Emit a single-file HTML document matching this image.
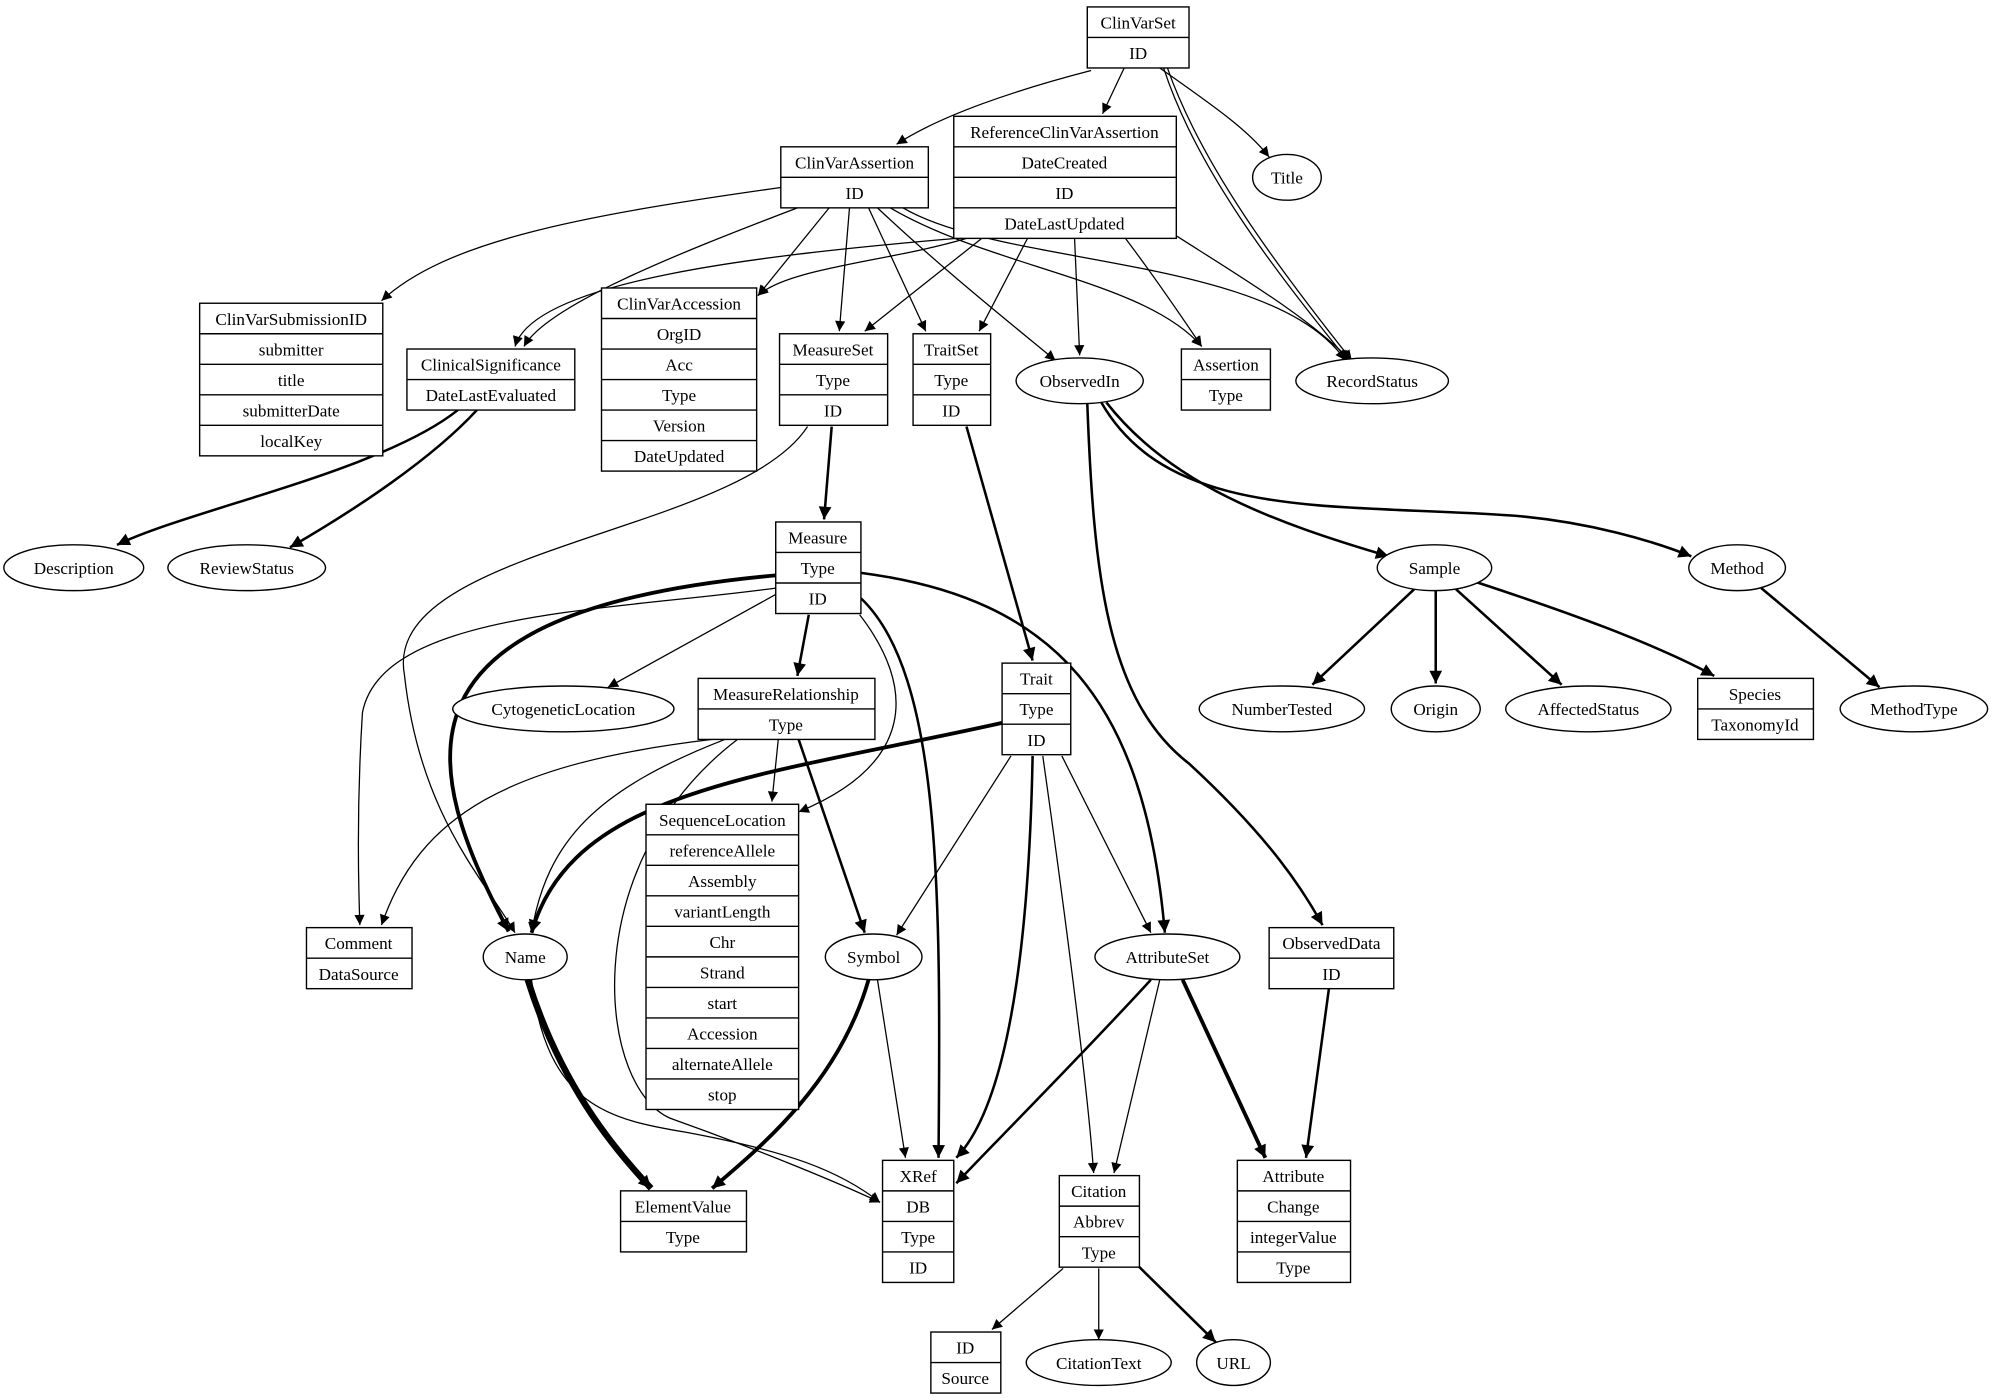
<!DOCTYPE html>
<html><head><meta charset="utf-8"><style>
html,body{margin:0;padding:0;background:#fff;}
svg{display:block;}
text{font-family:"Liberation Serif",serif;font-size:13.5px;text-anchor:middle;fill:#000;}
.r{fill:none;stroke:#000;stroke-width:1.1;}
.e{fill:none;stroke:#000;stroke-width:1;}
.t{stroke-width:2;}
.tt{stroke-width:3;}
.t4{stroke-width:5;}
</style></head><body>
<svg width="1994" height="1400" viewBox="0 0 1568 1100" xmlns="http://www.w3.org/2000/svg">
<defs>
<marker id="a" viewBox="0 0 10 10" refX="10" refY="5" markerWidth="10" markerHeight="8" markerUnits="userSpaceOnUse" orient="auto"><path d="M0,0L10,5L0,10z" fill="#000"/></marker>
<marker id="b" viewBox="0 0 10 10" refX="10" refY="5" markerWidth="12" markerHeight="10" markerUnits="userSpaceOnUse" orient="auto"><path d="M0,0L10,5L0,10z" fill="#000"/></marker>
</defs>
<g class="e" marker-end="url(#a)">
<path d="M858,55 C800,70 740,90 705,113"/>
<path d="M884,53 L867,89"/>
<path d="M912,53 C950,80 980,100 998,123"/>
<path d="M915,53 C940,130 1000,210 1060,283"/>
<path d="M918,53 C945,130 1005,210 1063,283"/>
<path d="M614,147 C450,170 350,190 300,236"/>
<path d="M627,163 C530,200 430,240 412,272"/>
<path d="M652,163 L596,232"/>
<path d="M668,163 L660,260"/>
<path d="M683,163 L728,260"/>
<path d="M690,163 C740,210 790,250 830,283"/>
<path d="M700,163 C780,210 900,220 945,272"/>
<path d="M710,163 C790,210 1000,200 1058,283"/>
<path d="M752,187 C600,200 420,220 405,272"/>
<path d="M760,187 C700,205 620,210 596,232"/>
<path d="M772,187 L680,260"/>
<path d="M808,187 L770,260"/>
<path d="M845,187 L849,279"/>
<path d="M885,187 C910,220 930,250 945,272"/>
<path d="M925,185 C980,220 1030,250 1062,283"/>
<path d="M635,335 C580,420 300,430 318,530 C330,640 380,690 405,733"/>
<path d="M610,467 L478,540"/>
<path d="M610,462 C480,480 300,480 285,560 C280,640 282,700 283,727"/>
<path d="M676,483 C720,540 720,600 628,638"/>
<path d="M560,581 C400,600 330,640 300,727"/>
<path d="M570,581 C470,620 430,660 418,733"/>
<path d="M612,581 L607,630"/>
<path d="M580,581 C450,680 470,860 530,880 C600,905 660,930 692,945"/>
<path d="M795,594 L705,735"/>
<path d="M820,594 C835,700 855,850 860,922"/>
<path d="M835,594 L905,733"/>
<path d="M418,770 C430,870 480,880 540,890 C620,905 660,920 692,945"/>
<path d="M690,770 L712,910"/>
<path d="M912,770 L876,922"/>
<path d="M836,997 L780,1045"/>
<path d="M864,997 L864,1053"/>
</g>
<g class="e t" marker-end="url(#b)">
<path d="M360,322 C300,370 150,400 92,428"/>
<path d="M375,322 C340,360 280,400 228,430"/>
<path d="M654,335 L648,408"/>
<path d="M760,335 L812,519"/>
<path d="M870,316 C920,380 1000,410 1092,437"/>
<path d="M866,316 C920,410 1050,395 1190,405 C1250,410 1300,425 1330,437"/>
<path d="M855,317 C860,450 870,550 935,600 C1000,660 1025,700 1040,727"/>
<path d="M1112,463 L1032,538"/>
<path d="M1129,464 L1129,537"/>
<path d="M1145,463 L1228,538"/>
<path d="M1160,457 C1230,480 1300,505 1348,531"/>
<path d="M1385,462 L1478,540"/>
<path d="M636,483 L627,531"/>
<path d="M677,470 C740,530 740,700 738,910"/>
<path d="M677,450 C830,470 900,550 916,733"/>
<path d="M628,581 L680,733"/>
<path d="M812,594 C810,700 800,860 752,910"/>
<path d="M905,770 C850,830 790,890 752,930"/>
<path d="M1045,777 L1027,910"/>
<path d="M895,995 L956,1055"/>
</g>
<g class="e tt" marker-end="url(#b)">
<path d="M610,452 C300,480 330,600 400,732"/>
<path d="M788,568 C600,610 450,620 418,733"/>
<path d="M683,770 C660,850 600,900 560,934"/>
<path d="M930,770 L995,910"/>
</g>
<path class="e t4" d="M415,770 C440,850 480,900 512,934" marker-end="url(#b)"/>
<g fill="#fff" stroke="#000" stroke-width="1.1">
<rect x="855" y="5" width="80" height="48"/>
<rect x="750" y="91" width="175" height="96"/>
<rect x="614" y="115" width="116" height="48"/>
<rect x="157" y="238" width="144" height="120"/>
<rect x="320" y="274" width="132" height="48"/>
<rect x="473" y="226" width="122" height="144"/>
<rect x="613" y="262" width="85" height="72"/>
<rect x="718" y="262" width="61" height="72"/>
<rect x="929" y="274" width="70" height="48"/>
<rect x="610" y="410" width="67" height="72"/>
<rect x="549" y="533" width="139" height="48"/>
<rect x="788" y="521" width="54" height="72"/>
<rect x="1335" y="533" width="91" height="48"/>
<rect x="508" y="632" width="120" height="240"/>
<rect x="241" y="729" width="83" height="48"/>
<rect x="998" y="729" width="98" height="48"/>
<rect x="488" y="936" width="99" height="48"/>
<rect x="694" y="912" width="56" height="96"/>
<rect x="833" y="924" width="63" height="72"/>
<rect x="973" y="912" width="89" height="96"/>
<rect x="732" y="1047" width="55" height="48"/>
<ellipse cx="1012" cy="139" rx="27" ry="18"/>
<ellipse cx="849" cy="299" rx="50" ry="18"/>
<ellipse cx="1079" cy="299" rx="60" ry="18"/>
<ellipse cx="58" cy="446" rx="55" ry="18"/>
<ellipse cx="194" cy="446" rx="62" ry="18"/>
<ellipse cx="1128" cy="446" rx="45" ry="18"/>
<ellipse cx="1366" cy="446" rx="38" ry="18"/>
<ellipse cx="443" cy="557" rx="87" ry="18"/>
<ellipse cx="1008" cy="557" rx="65" ry="18"/>
<ellipse cx="1129" cy="557" rx="35" ry="18"/>
<ellipse cx="1249" cy="557" rx="65" ry="18"/>
<ellipse cx="1505" cy="557" rx="58" ry="18"/>
<ellipse cx="413" cy="752" rx="33" ry="18"/>
<ellipse cx="687" cy="752" rx="38" ry="18"/>
<ellipse cx="918" cy="752" rx="57" ry="18"/>
<ellipse cx="864" cy="1071" rx="57" ry="18"/>
<ellipse cx="970" cy="1071" rx="29" ry="18"/>
</g>
<path class="r" d="M855,29h80 M750,115h175 M750,139h175 M750,163h175 M614,139h116
M157,262h144 M157,286h144 M157,310h144 M157,334h144 M320,298h132
M473,250h122 M473,274h122 M473,298h122 M473,322h122 M473,346h122
M613,286h85 M613,310h85 M718,286h61 M718,310h61 M929,298h70
M610,434h67 M610,458h67 M549,557h139 M788,545h54 M788,569h54 M1335,557h91
M508,656h120 M508,680h120 M508,704h120 M508,728h120 M508,752h120 M508,776h120 M508,800h120 M508,824h120 M508,848h120
M241,753h83 M998,753h98 M488,960h99 M694,936h56 M694,960h56 M694,984h56
M833,948h63 M833,972h63 M973,936h89 M973,960h89 M973,984h89 M732,1071h55"/>
<text x="895" y="22">ClinVarSet</text><text x="895" y="46">ID</text>
<text x="837" y="108">ReferenceClinVarAssertion</text><text x="837" y="132">DateCreated</text><text x="837" y="156">ID</text><text x="837" y="180">DateLastUpdated</text>
<text x="672" y="132">ClinVarAssertion</text><text x="672" y="156">ID</text>
<text x="229" y="255">ClinVarSubmissionID</text><text x="229" y="279">submitter</text><text x="229" y="303">title</text><text x="229" y="327">submitterDate</text><text x="229" y="351">localKey</text>
<text x="386" y="291">ClinicalSignificance</text><text x="386" y="315">DateLastEvaluated</text>
<text x="534" y="243">ClinVarAccession</text><text x="534" y="267">OrgID</text><text x="534" y="291">Acc</text><text x="534" y="315">Type</text><text x="534" y="339">Version</text><text x="534" y="363">DateUpdated</text>
<text x="655" y="279">MeasureSet</text><text x="655" y="303">Type</text><text x="655" y="327">ID</text>
<text x="748" y="279">TraitSet</text><text x="748" y="303">Type</text><text x="748" y="327">ID</text>
<text x="964" y="291">Assertion</text><text x="964" y="315">Type</text>
<text x="643" y="427">Measure</text><text x="643" y="451">Type</text><text x="643" y="475">ID</text>
<text x="618" y="550">MeasureRelationship</text><text x="618" y="574">Type</text>
<text x="815" y="538">Trait</text><text x="815" y="562">Type</text><text x="815" y="586">ID</text>
<text x="1380" y="550">Species</text><text x="1380" y="574">TaxonomyId</text>
<text x="568" y="649">SequenceLocation</text><text x="568" y="673">referenceAllele</text><text x="568" y="697">Assembly</text><text x="568" y="721">variantLength</text><text x="568" y="745">Chr</text><text x="568" y="769">Strand</text><text x="568" y="793">start</text><text x="568" y="817">Accession</text><text x="568" y="841">alternateAllele</text><text x="568" y="865">stop</text>
<text x="282" y="746">Comment</text><text x="282" y="770">DataSource</text>
<text x="1047" y="746">ObservedData</text><text x="1047" y="770">ID</text>
<text x="537" y="953">ElementValue</text><text x="537" y="977">Type</text>
<text x="722" y="929">XRef</text><text x="722" y="953">DB</text><text x="722" y="977">Type</text><text x="722" y="1001">ID</text>
<text x="864" y="941">Citation</text><text x="864" y="965">Abbrev</text><text x="864" y="989">Type</text>
<text x="1017" y="929">Attribute</text><text x="1017" y="953">Change</text><text x="1017" y="977">integerValue</text><text x="1017" y="1001">Type</text>
<text x="759" y="1064">ID</text><text x="759" y="1088">Source</text>
<text x="1012" y="144">Title</text>
<text x="849" y="304">ObservedIn</text>
<text x="1079" y="304">RecordStatus</text>
<text x="58" y="451">Description</text>
<text x="194" y="451">ReviewStatus</text>
<text x="1128" y="451">Sample</text>
<text x="1366" y="451">Method</text>
<text x="443" y="562">CytogeneticLocation</text>
<text x="1008" y="562">NumberTested</text>
<text x="1129" y="562">Origin</text>
<text x="1249" y="562">AffectedStatus</text>
<text x="1505" y="562">MethodType</text>
<text x="413" y="757">Name</text>
<text x="687" y="757">Symbol</text>
<text x="918" y="757">AttributeSet</text>
<text x="864" y="1076">CitationText</text>
<text x="970" y="1076">URL</text>
</svg>
</body></html>
